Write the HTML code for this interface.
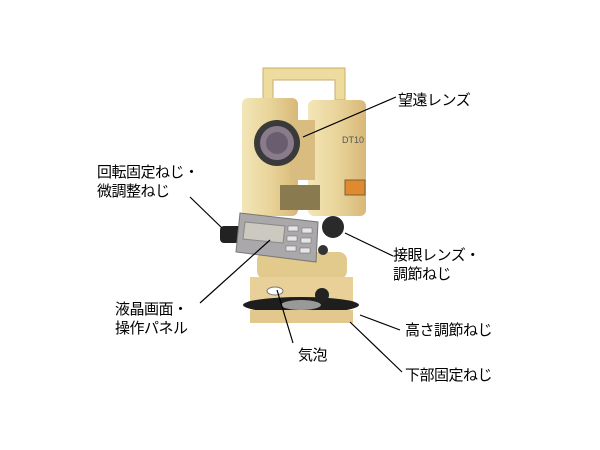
<!DOCTYPE html>
<html><head><meta charset="utf-8"><style>
body{margin:0;width:600px;height:450px;background:#fff;position:relative;overflow:hidden;font-family:"Liberation Sans","Noto Sans CJK JP",sans-serif;}
.t{position:absolute;font-size:15px;line-height:19px;color:#000;white-space:nowrap;letter-spacing:-0.5px;}
svg{position:absolute;left:0;top:0;}
</style></head><body>
<svg width="600" height="450">
<defs>
<linearGradient id="g" x1="0" x2="1"><stop offset="0" stop-color="#f3e6b8"/><stop offset="0.5" stop-color="#e9d49a"/><stop offset="1" stop-color="#d8b878"/></linearGradient>
</defs>
<path d="M263 100 L263 68 L345 68 L345 100 L335 100 L335 80 L273 80 L273 100Z" fill="#eedc9e" stroke="#c9ac6c"/>
<rect x="242" y="98" width="56" height="118" rx="6" fill="url(#g)"/>
<rect x="308" y="100" width="58" height="116" rx="6" fill="url(#g)"/>
<rect x="290" y="120" width="25" height="60" fill="#d9bd80"/>
<rect x="280" y="185" width="40" height="25" fill="#8a7a50"/>
<rect x="345" y="180" width="20" height="15" fill="#e08a30" stroke="#806030"/>
<text x="342" y="143" font-size="9" fill="#555" font-family="Liberation Sans">DT10</text>
<circle cx="277" cy="143" r="23" fill="#3a3a3a"/>
<circle cx="277" cy="143" r="17" fill="#8a7b8a"/>
<circle cx="277" cy="143" r="11" fill="#6a5d70"/>
<rect x="257" y="252" width="90" height="27" rx="8" fill="#e2c98c"/>
<rect x="250" y="277" width="103" height="31" fill="#e8d098"/>
<ellipse cx="301" cy="305" rx="58" ry="8" fill="#1e1e1e"/>
<ellipse cx="301" cy="305" rx="20" ry="5" fill="#999"/>
<rect x="250" y="310" width="103" height="13" fill="#e3c88e"/>
<ellipse cx="275" cy="291" rx="8" ry="4" fill="#fff" stroke="#777"/>
<circle cx="322" cy="295" r="7" fill="#222"/>
<rect x="220" y="226" width="22" height="17" rx="4" fill="#222"/>
<circle cx="333" cy="227" r="11" fill="#2a2a2a"/>
<circle cx="323" cy="250" r="5" fill="#333"/>
<polygon points="240,213 318,222 316,262 236,252" fill="#aaa8aa" stroke="#777"/>
<polygon points="245,222 285,226 283,243 243,239" fill="#ccc9c0" stroke="#888"/>
<g fill="#e6e6e6" stroke="#666" stroke-width=".5">
<rect x="288" y="226" width="10" height="5"/><rect x="302" y="228" width="10" height="5"/>
<rect x="287" y="236" width="10" height="5"/><rect x="301" y="238" width="10" height="5"/>
<rect x="286" y="246" width="10" height="5"/><rect x="300" y="248" width="10" height="5"/>
</g>
<g stroke="#000" stroke-width="1.2" fill="none">
<line x1="303" y1="137" x2="396" y2="97"/>
<line x1="190" y1="197" x2="222" y2="228"/>
<line x1="345" y1="233" x2="393" y2="256"/>
<line x1="270" y1="240" x2="200" y2="303"/>
<line x1="360" y1="315" x2="400" y2="330"/>
<line x1="350" y1="322" x2="402" y2="372"/>
<line x1="277" y1="290" x2="293" y2="343"/>
</g>
</svg>
<div class="t" style="left:398px;top:91px">望遠レンズ</div>
<div class="t" style="left:97px;top:163px">回転固定ねじ・<br>微調整ねじ</div>
<div class="t" style="left:393px;top:246px">接眼レンズ・<br>調節ねじ</div>
<div class="t" style="left:115px;top:300px">液晶画面・<br>操作パネル</div>
<div class="t" style="left:405px;top:321px">高さ調節ねじ</div>
<div class="t" style="left:298px;top:346px">気泡</div>
<div class="t" style="left:405px;top:366px">下部固定ねじ</div>
</body></html>
